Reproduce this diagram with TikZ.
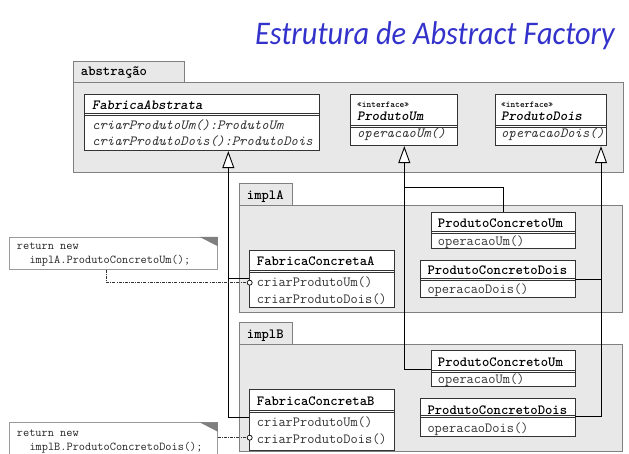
\documentclass[tikz,border=0pt]{standalone}
\usepackage{fontspec}
\newfontfamily\titlefont{Carlito}
\usetikzlibrary{arrows.meta,fit}
\definecolor{pkgfill}{HTML}{E8E8E8}
\definecolor{pkgline}{HTML}{808080}
\definecolor{clsline}{HTML}{333333}
\definecolor{titleblue}{HTML}{3333CC}
\definecolor{methtext}{HTML}{333333}
\definecolor{notegray}{HTML}{9A9A9A}
\definecolor{foldgray}{HTML}{7F7F7F}
\newcommand\umlbox[6]{%
  \node[cls, fit={(#2,#3)(#4,#5)}] (#1) {};
  \draw[divline] (#2,#6-1.1) -- (#4,#6-1.1) (#2,#6+1.1) -- (#4,#6+1.1);
}
\begin{document}
\begin{tikzpicture}[x=1pt,y=-1pt,
  pkg/.style={draw=pkgline, fill=pkgfill, line width=1pt, inner sep=0pt},
  cls/.style={draw=clsline, fill=white, line width=0.9pt, inner sep=0pt},
  notebox/.style={draw=notegray, fill=white, line width=0.9pt, inner sep=0pt},
  divline/.style={draw=clsline, line width=0.7pt},
  txt/.style={anchor=base west, inner sep=0pt, font=\ttfamily\fontsize{14}{16}\selectfont},
  nametxt/.style={txt, font=\ttfamily\bfseries\fontsize{14}{16}\selectfont},
  absname/.style={txt, font=\ttfamily\bfseries\itshape\fontsize{14}{16}\selectfont},
  meth/.style={txt, text=methtext},
  absmeth/.style={txt, text=methtext, font=\ttfamily\itshape\fontsize{14}{16}\selectfont},
  stereo/.style={txt, font=\ttfamily\bfseries\fontsize{9}{10}\selectfont},
  notetxt/.style={anchor=base west, inner sep=0pt, font=\ttfamily\fontsize{12}{14}\selectfont, text=black!85},
  conn/.style={draw=black, line width=0.9pt},
  gen/.style={conn, -{Triangle[length=17pt,width=12pt,fill=white,line width=0.9pt]}},
  dashdot/.style={draw=black!80, line width=0.7pt, dash pattern=on 3pt off 1.2pt on 0.8pt off 1.2pt},
  lollipop/.style={circle, draw=black, fill=white, line width=0.7pt, inner sep=0pt, minimum size=5pt},
]
\fill[white] (0,0) rectangle (629,454);
\useasboundingbox (0,0) rectangle (629,454);

% title
\node[anchor=base east, inner sep=0pt, font=\titlefont\itshape\fontsize{33}{40}\selectfont, text=titleblue] (title) at (615,44.3) {\scalebox{0.92}[1]{Estrutura de Abstract Factory}};

% packages
\node[pkg, fit={(73,62)(184,83)}] (absTab) {};
\node[pkg, fit={(73,83)(623,173)}] (absBody) {};
\node[nametxt] (absLbl) at (80.7,76) {abstração};

\node[pkg, fit={(239,184)(292.7,206)}] (aTab) {};
\node[pkg, fit={(239,206)(622.7,312.7)}] (aBody) {};
\node[nametxt] (aLbl) at (246.7,200) {implA};

\node[pkg, fit={(239,322.7)(292.7,344)}] (bTab) {};
\node[pkg, fit={(239,344)(622.7,451.7)}] (bBody) {};
\node[nametxt] (bLbl) at (246.7,338) {implB};

% classes
\umlbox{fa}{84}{94}{319.3}{150.7}{114.7}
\node[absname] (faN) at (92,110) {FabricaAbstrata};
\node[absmeth] (faM1) at (92,130) {criarProdutoUm():ProdutoUm};
\node[absmeth] (faM2) at (92,146) {criarProdutoDois():ProdutoDois};

\umlbox{pu}{350.7}{94}{457.7}{145.7}{126.5}
\node[stereo] (puS) at (357,107.5) {«interface»};
\node[absname] (puN) at (357,120.5) {ProdutoUm};
\node[absmeth] (puM) at (357,138) {operacaoUm()};

\umlbox{pd}{495}{94}{606}{145.7}{126.5}
\node[stereo] (pdS) at (501,107.5) {«interface»};
\node[absname] (pdN) at (501,120.5) {ProdutoDois};
\node[absmeth] (pdM) at (501,138) {operacaoDois()};

\umlbox{fcA}{249.3}{250.7}{394}{307.3}{271}
\node[nametxt] (fcAN) at (256.7,266) {FabricaConcretaA};
\node[meth] (fcAM1) at (256.7,287) {criarProdutoUm()};
\node[meth] (fcAM2) at (256.7,304) {criarProdutoDois()};

\umlbox{pcuA}{431}{212.3}{575}{248.3}{232.3}
\node[nametxt] (pcuAN) at (437.7,227.5) {ProdutoConcretoUm};
\node[meth] (pcuAM) at (437.7,245.5) {operacaoUm()};

\umlbox{pcdA}{420}{260}{575}{297.3}{279.3}
\node[nametxt] (pcdAN) at (427.3,275) {ProdutoConcretoDois};
\node[meth] (pcdAM) at (427.3,293.5) {operacaoDois()};

\umlbox{fcB}{249.3}{389.3}{394}{450}{411}
\node[nametxt] (fcBN) at (256.7,405.5) {FabricaConcretaB};
\node[meth] (fcBM1) at (256.7,426.5) {criarProdutoUm()};
\node[meth] (fcBM2) at (256.7,443) {criarProdutoDois()};

\umlbox{pcuB}{431}{350.7}{575}{386}{371}
\node[nametxt] (pcuBN) at (437.7,366) {ProdutoConcretoUm};
\node[meth] (pcuBM) at (437.7,383.5) {operacaoUm()};

\umlbox{pcdB}{420}{398.3}{575}{436.7}{416.7}
\node[nametxt] (pcdBN) at (427.3,414) {ProdutoConcretoDois};
\node[meth] (pcdBM) at (427.3,432.5) {operacaoDois()};

% connector junctions
\coordinate (jFB) at (228.3,417.3);
\coordinate (jFA) at (228.3,278.7);
\coordinate (jUB) at (404.3,369.3);
\coordinate (jUA) at (404.3,187.3);
\coordinate (jDA) at (601,279.5);
\coordinate (jDB) at (601,416.7);

\draw[gen] (fcB.west |- jFB) -- (jFB) -- (fa.south -| jFB);
\draw[conn] (fcA.west |- jFA) -- (jFA);
\draw[gen] (pcuB.west |- jUB) -- (jUB) -- (pu.south -| jUB);
\draw[conn] (pcuA.north) |- (jUA);
\draw[gen] (pcdB.east |- jDB) -- (jDB) -- (pd.south -| jDB);
\draw[conn] (pcdA.east |- jDA) -- (jDA);

% notes
\node[notebox, fit={(9.3,237.3)(217.3,269.3)}] (noteA) {};
\fill[foldgray] (noteA.north east) -- ++(-18.3,0) -- ++(18.3,9.4) -- cycle;
\node[notetxt] (noteA1) at (16.7,249.5) {return new};
\node[notetxt] (noteA2) at (29.3,264) {implA.ProdutoConcretoUm();};

\node[notebox, fit={(9.3,422.7)(217.3,462)}] (noteB) {};
\fill[foldgray] (noteB.north east) -- ++(-18.3,0) -- ++(18.3,9.4) -- cycle;
\node[notetxt] (noteB1) at (16.7,436.5) {return new};
\node[notetxt] (noteB2) at (29.3,450) {implB.ProdutoConcretoDois();};

\node[lollipop] (cA) at (249.7,282.7) {};
\node[lollipop] (cB) at (249.7,437.7) {};
\draw[dashdot] ([xshift=-6.6pt]noteA.south) |- (cA.west);
\draw[dashdot] (noteB.east |- cB) -- (cB.west);
\end{tikzpicture}
\end{document}
